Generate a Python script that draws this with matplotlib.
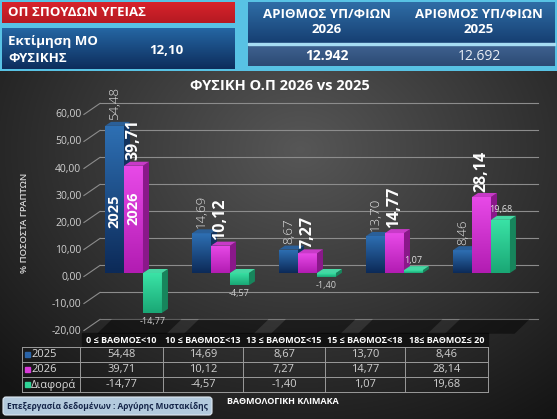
import numpy as np
import matplotlib
matplotlib.use('Agg')
import matplotlib.pyplot as plt
from matplotlib.patches import Rectangle, Polygon, FancyBboxPatch

plt.rcParams['font.family'] = ['Open Sans', 'DejaVu Sans']

categories = ['0 ≤ ΒΑΘΜΟΣ<10', '10 ≤ ΒΑΘΜΟΣ<13', '13 ≤ ΒΑΘΜΟΣ<15',
              '15 ≤ ΒΑΘΜΟΣ<18', '18≤ ΒΑΘΜΟΣ≤ 20']
v2025 = [54.48, 14.69, 8.67, 13.70, 8.46]
v2026 = [39.71, 10.12, 7.27, 14.77, 28.14]
diff = [-14.77, -4.57, -1.40, 1.07, 19.68]
series_names = ['2025', '2026', 'Διαφορά']
yticks = [-20, -10, 0, 10, 20, 30, 40, 50, 60]

def fmt(v):
    return f'{v:.2f}'.replace('.', ',')

W, H = 557, 419
fig = plt.figure(figsize=(W / 100, H / 100), dpi=100)

# background layer in pixel coordinates
bg = fig.add_axes([0, 0, 1, 1])
bg.set_xlim(0, W)
bg.set_ylim(H, 0)
bg.axis('off')

# top header strip
bg.add_patch(Rectangle((0, 0), W, 72, color='#58c2e4', zorder=0))
yy, xx = np.mgrid[72:H, 0:W]
d = np.sqrt(((xx - 300) / 420.0) ** 2 + ((yy - 150) / 330.0) ** 2)
shade = np.clip(0.34 - 0.26 * d, 0.08, 0.4)
bg.imshow(np.dstack([shade] * 3), extent=(0, W, H, 72), aspect='auto', zorder=0)
bg.set_xlim(0, W)
bg.set_ylim(H, 0)

def grad_box(x, y, w, h, c1, c2, z=1):
    g = np.linspace(0, 1, 50)[:, None]
    c1 = np.array(matplotlib.colors.to_rgb(c1))
    c2 = np.array(matplotlib.colors.to_rgb(c2))
    img = c1[None, None, :] * (1 - g[..., None]) + c2[None, None, :] * g[..., None]
    bg.imshow(img, extent=(x, x + w, y + h, y), aspect='auto', zorder=z)

grad_box(2, 2, 233, 21, '#d8232c', '#b51a22')
grad_box(2, 28, 233, 41, '#2566a3', '#0d2d5c')
grad_box(248, 2, 307, 41, '#2f6da6', '#163f72')
bg.add_patch(Rectangle((248, 43), 307, 2.5, color='#a6dcf2', zorder=2))
grad_box(248, 45.5, 307, 21, '#3f6290', '#2c4a74')
bg.set_xlim(0, W)
bg.set_ylim(H, 0)

bg.text(8, 13, 'ΟΠ ΣΠΟΥΔΩΝ ΥΓΕΙΑΣ', color='white', fontsize=9.5,
        fontweight='bold', va='center', zorder=3)
bg.text(8, 41, 'Εκτίμηση ΜΟ', color='white', fontsize=9.5,
        fontweight='bold', va='center', zorder=3)
bg.text(8, 58, 'ΦΥΣΙΚΗΣ', color='white', fontsize=9.5,
        fontweight='bold', va='center', zorder=3)
bg.text(166, 51, '12,10', color='white', fontsize=9.5,
        fontweight='bold', va='center', ha='center', zorder=3)
bg.text(327, 22, 'ΑΡΙΘΜΟΣ ΥΠ/ΦΙΩΝ\n2026', color='white', fontsize=9.5,
        fontweight='bold', va='center', ha='center', linespacing=1.2, zorder=3)
bg.text(479, 22, 'ΑΡΙΘΜΟΣ ΥΠ/ΦΙΩΝ\n2025', color='white', fontsize=9.5,
        fontweight='bold', va='center', ha='center', linespacing=1.2, zorder=3)
bg.text(327, 56, '12.942', color='white', fontsize=10,
        fontweight='bold', va='center', ha='center', zorder=3)
bg.text(479, 56, '12.692', color='#e8eef5', fontsize=10,
        va='center', ha='center', zorder=3)

bg.text(280, 86, 'ΦΥΣΙΚΗ Ο.Π 2026 vs 2025', color='white', fontsize=10.5,
        fontweight='bold', va='center', ha='center', zorder=3)
bg.text(25, 223, '% ΠΟΣΟΣΤΑ ΓΡΑΠΤΩΝ', color='#d8d8d8', fontsize=6.8,
        fontweight='semibold', rotation=90, va='center', ha='center', zorder=3)

# table under the chart
col_edges = [80, 163, 243, 325, 405, 488]
row_edges = [347, 362, 377, 392]
bg.add_patch(Rectangle((82, 333), 406, 14, color='#121212', zorder=1))
for i, cat in enumerate(categories):
    cx = (col_edges[i] + col_edges[i + 1]) / 2
    bg.text(cx, 340, cat, color='white', fontsize=6.5, fontweight='bold',
            ha='center', va='center', zorder=3)
for x in [22] + col_edges:
    bg.plot([x, x], [row_edges[0], row_edges[-1]], color='#9a9a9a', lw=0.7, zorder=2)
for y in row_edges:
    bg.plot([22, 488], [y, y], color='#9a9a9a', lw=0.7, zorder=2)

colors = ['#2a64a8', '#d93ad9', '#2fd497']
rows = [v2025, v2026, diff]
for r, (name, vals) in enumerate(zip(series_names, rows)):
    cy = (row_edges[r] + row_edges[r + 1]) / 2
    bg.add_patch(Rectangle((25, cy - 2.5), 4.5, 4.5, color=colors[r], zorder=3))
    bg.text(31, cy, name, color='#d8d8d8', fontsize=8, va='center', zorder=3)
    for i, v in enumerate(vals):
        cx = (col_edges[i] + col_edges[i + 1]) / 2
        bg.text(cx, cy, fmt(v), color='#d0d0d0', fontsize=8,
                ha='center', va='center', zorder=3)

bg.text(283, 401, 'ΒΑΘΜΟΛΟΓΙΚΗ ΚΛΙΜΑΚΑ', color='white', fontsize=6.5,
        fontweight='bold', ha='center', va='center', zorder=3)
bg.add_patch(FancyBboxPatch((3, 397), 209, 18, boxstyle='round,pad=0,rounding_size=3',
                            facecolor='#b3cadd', edgecolor='#dfe9f2', lw=0.8, zorder=3))
bg.text(107, 406, 'Επεξεργασία δεδομένων : Αργύρης Μυστακίδης', color='#16264a',
        fontsize=6, fontweight='bold', ha='center', va='center', zorder=4)

# chart axes: x unit = 87 px, y unit = 2.7 px
ax = fig.add_axes([60 / W, 1 - 335 / H, 485 / W, 240 / H])
ax.set_xlim(-0.845, 4.73)
ax.set_ylim(-22.96, 65.9)
ax.axis('off')
ax.patch.set_alpha(0)

wall_dy = 2.8
for v in yticks:
    ax.plot([-0.57, -0.385], [v - 1.3, v + wall_dy], color='#8c8c8c', lw=0.8, zorder=1)
    if v > -20:
        ax.plot([-0.385, 4.65], [v + wall_dy, v + wall_dy], color='#8c8c8c', lw=0.8, zorder=1)
    ax.text(-0.6, v - 1.5, fmt(v), color='#d0d0d0', fontsize=7.5,
            ha='right', va='center', zorder=2)

# floor at -20 with dark shadows
ax.plot([-0.385, 4.65], [-20 + wall_dy, -20 + wall_dy], color='#7a7a7a', lw=0.8, zorder=1)
x = np.arange(len(categories))
for i in x:
    ax.add_patch(Polygon([(i - 0.42, -22.5), (i - 0.25, -20 + wall_dy),
                          (i + 0.55, -20 + wall_dy), (i + 0.38, -22.5)],
                         closed=True, facecolor='black', alpha=0.45, lw=0, zorder=1))

w = 0.218
dx, dy = 0.069, 1.48
tops = [('#2e70b4', '#0c2a58'), ('#e84ae8', '#b21cb2'), ('#3ae3a6', '#1aa775')]
sides = ['#12335f', '#8a188a', '#17855c']
top_faces = ['#2a5f98', '#c83ac8', '#46d8a4']
for s, vals in enumerate(rows):
    xs = x + (s - 1) * w
    bars = ax.bar(xs, vals, width=w, color=tops[s][0], lw=0, zorder=3 + s)
    for b, v in zip(bars, vals):
        x0 = b.get_x()
        x1 = x0 + w
        lo, hi = min(v, 0), max(v, 0)
        c1 = np.array(matplotlib.colors.to_rgb(tops[s][0]))
        c2 = np.array(matplotlib.colors.to_rgb(tops[s][1]))
        g = np.linspace(0, 1, 60)[:, None, None]
        img = c1 * (1 - g) + c2 * g
        im = ax.imshow(np.repeat(img, 2, axis=1), extent=(x0, x1, lo, hi),
                       aspect='auto', origin='upper', zorder=3 + s)
        im.set_clip_path(b)
        ax.add_patch(Polygon([(x1, lo), (x1 + dx, lo + dy), (x1 + dx, hi + dy), (x1, hi)],
                             closed=True, facecolor=sides[s], lw=0, zorder=3 + s))
        ax.add_patch(Polygon([(x0, hi), (x0 + dx, hi + dy), (x1 + dx, hi + dy), (x1, hi)],
                             closed=True, facecolor=top_faces[s], lw=0, zorder=3 + s))

ax.set_xlim(-0.845, 4.73)
ax.set_ylim(-22.96, 65.9)

for i, v in enumerate(v2025):
    ax.annotate(fmt(v), (i - w, v + dy), xytext=(0, 1), textcoords='offset points',
                rotation=90, ha='center', va='bottom', color='#e6e6e6',
                fontsize=9.5, fontweight='light', zorder=10)
for i, v in enumerate(v2026):
    ax.annotate(fmt(v), (i, v + dy), xytext=(0, 1), textcoords='offset points',
                rotation=90, ha='center', va='bottom', color='white',
                fontsize=11.5, fontweight='bold', zorder=10)
for i, v in enumerate(diff):
    if v < 0:
        ax.annotate(fmt(v), (i + w, v), xytext=(0, -3), textcoords='offset points',
                    ha='center', va='top', color='#cfcfcf', fontsize=6.5, zorder=10)
    else:
        ax.annotate(fmt(v), (i + w, v + dy), xytext=(0, 1), textcoords='offset points',
                    ha='center', va='bottom', color='#e0e0e0', fontsize=6.5, zorder=10)

ax.text(-w, v2025[0] * 0.42, '2025', rotation=90, color='white', fontsize=10.5,
        fontweight='bold', ha='center', va='center', zorder=10)
ax.text(0, v2026[0] * 0.6, '2026', rotation=90, color='white', fontsize=10.5,
        fontweight='bold', ha='center', va='center', zorder=10)

fig.savefig('out.png', dpi=100)
